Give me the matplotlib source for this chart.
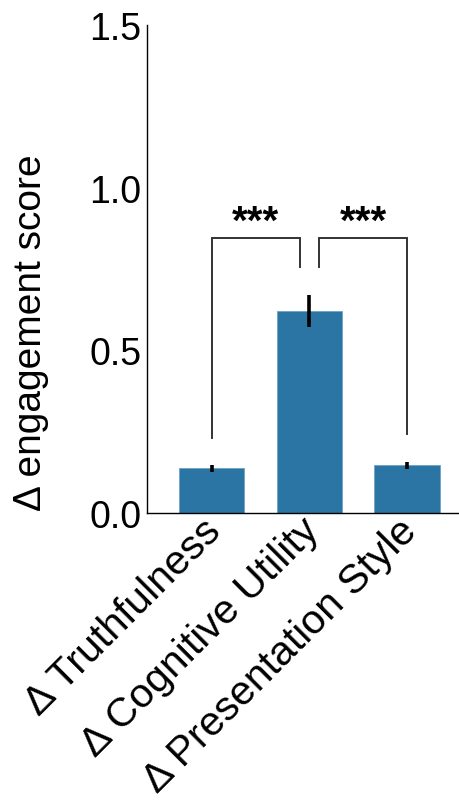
import matplotlib
matplotlib.use("Agg")
import matplotlib.pyplot as plt
from matplotlib.transforms import ScaledTranslation

# Mean change in engagement score per attribute, with standard errors
categories = ["Δ Truthfulness", "Δ Cognitive Utility", "Δ Presentation Style"]
means = [0.137, 0.620, 0.147]
errors = [0.011, 0.049, 0.011]
y_ticks = [0.0, 0.5, 1.0, 1.5]
y_tick_labels = ["0.0", "0.5", "1.0", "1.5"]

# Significance brackets: (left x, right x, left leg end, right leg end, top, label)
brackets = [
    (0, 0.9, 0.232, 0.757, 0.846, "***"),
    (1.1, 2.0, 0.757, 0.244, 0.846, "***"),
]

plt.rcParams["font.family"] = ["Liberation Sans", "DejaVu Sans"]

fig = plt.figure(figsize=(4.59, 8.03), dpi=100)
ax = fig.add_axes([147 / 459, 1 - 514 / 803, 1 - 147 / 459, 488 / 803])

x = list(range(len(categories)))
ax.bar(x, means, width=0.667, color="#2a75a3", edgecolor="#6fa2c4", linewidth=0.6, zorder=2)
ax.errorbar(x, means, yerr=errors, fmt="none", ecolor="black", elinewidth=2.6, capsize=0, zorder=3)

for x0, x1, y0, y1, top, label in brackets:
    ax.plot([x0, x0, x1, x1], [y0, top, top, y1], color="#333333", lw=1.4, zorder=3,
            solid_joinstyle="miter")
    ax.text((x0 + x1) / 2, top - 0.008, label, ha="center", va="bottom",
            fontsize=29, fontweight="bold")

ax.set_xlim(-0.664, 2.533)
ax.set_ylim(0, 1.5)
ax.set_yticks(y_ticks)
ax.set_yticklabels(y_tick_labels, fontsize=27)
ax.set_xticks(x)
ax.set_xticklabels(categories, fontsize=29.5, rotation=45, ha="right", rotation_mode="anchor")
ax.tick_params(axis="y", length=0, pad=4)
ax.tick_params(axis="x", length=0, pad=2)
shift = ScaledTranslation(-10 / 100, 5 / 100, fig.dpi_scale_trans)
for lbl in ax.get_xticklabels():
    lbl.set_transform(lbl.get_transform() + shift)
ax.set_ylabel("Δ engagement score", fontsize=28)
ax.yaxis.set_label_coords(-0.314, 0.371)

for side in ("top", "right"):
    ax.spines[side].set_visible(False)
for side in ("left", "bottom"):
    ax.spines[side].set_linewidth(1.0)
    ax.spines[side].set_color("black")

fig.savefig("out.png", dpi=100)
